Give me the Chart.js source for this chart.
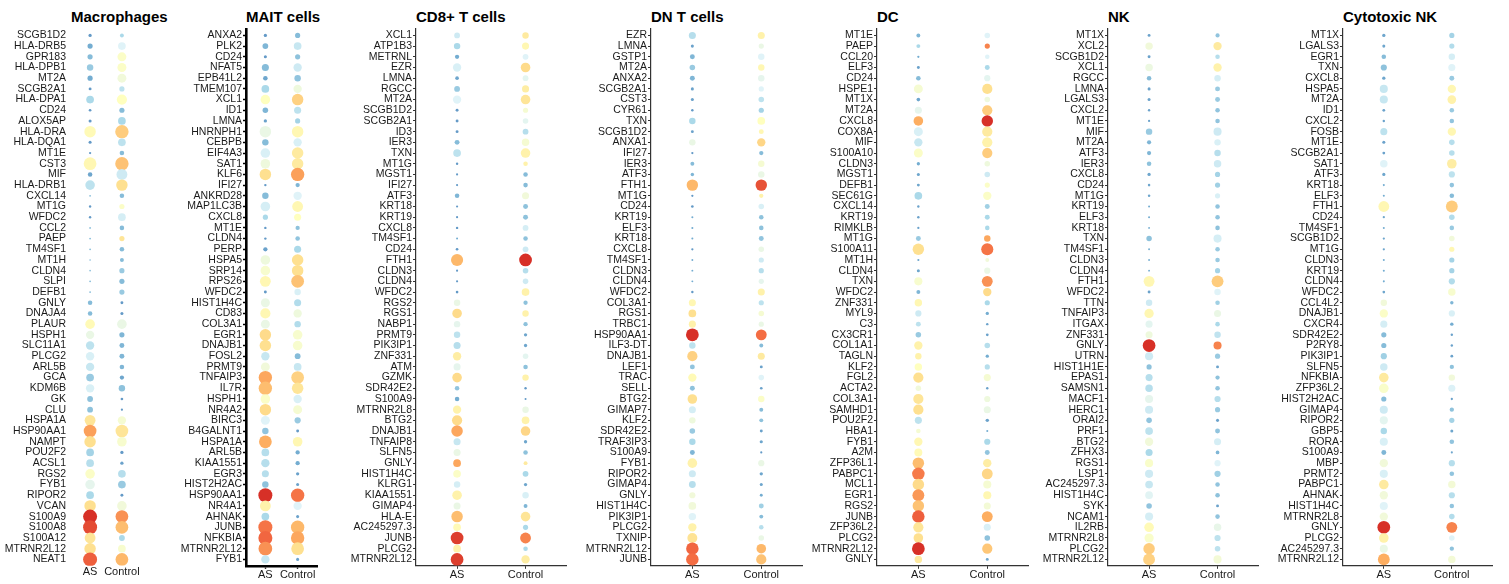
<!DOCTYPE html>
<html>
<head>
<meta charset="utf-8">
<script src="https://cdn.jsdelivr.net/npm/chart.js@4.4.1/dist/chart.umd.min.js"></script>
<style>
  html, body { margin: 0; padding: 0; background: #ffffff; }
  #wrap { position: relative; width: 1509px; height: 584px; overflow: hidden; background: #ffffff; }
  #wrap canvas { position: absolute; top: 0; }
  #wrap .panel-title {
    position: absolute; top: 8px; height: 18px; line-height: 18px; white-space: nowrap;
    font-family: "Liberation Sans", Arial, Helvetica, sans-serif; font-size: 15px; font-weight: bold; color: #000;
  }
</style>
</head>
<body>
<div id="wrap"></div>
<script>
// Dot plot of marker genes per cell type, AS vs Control.
// Exp = scaled average expression (0-10, colour), Pct = percent of cells expressing (size).
const groups = ['AS', 'Control'];

const macroGenes = ['SCGB1D2','HLA-DRB5','GPR183','HLA-DPB1','MT2A','SCGB2A1','HLA-DPA1','CD24','ALOX5AP','HLA-DRA','HLA-DQA1','MT1E','CST3','MIF','HLA-DRB1','CXCL14','MT1G','WFDC2','CCL2','PAEP','TM4SF1','MT1H','CLDN4','SLPI','DEFB1','GNLY','DNAJA4','PLAUR','HSPH1','SLC11A1','PLCG2','ARL5B','GCA','KDM6B','GK','CLU','HSPA1A','HSP90AA1','NAMPT','POU2F2','ACSL1','RGS2','FYB1','RIPOR2','VCAN','S100A9','S100A8','S100A12','MTRNR2L12','NEAT1'];
const macroAsExp = [1,1.5,2,2.5,1.5,1,3,1,1,6.2,1,1,6.3,1.3,3.5,2,1,1,2,2,2,2,2,2,2,2,2,6.2,5,3.5,4.3,3.8,2.5,4.3,2.2,2.2,7,8.4,7.2,2.8,3.3,5.8,4.8,3,7.2,10,9.6,7,7.2,9.3];
const macroAsPct = [15,30,30,40,30,12,50,10,13,80,13,7,90,25,65,3,8,8,3,3,3,2,2,3,3,25,25,65,55,55,55,55,50,55,35,35,75,90,80,50,50,65,65,50,80,100,100,75,80,100];
const macroCtrlExp = [3,4.5,5.8,5.8,5.3,3.5,6,2,3,7.6,3.5,2,7.8,4,7.2,2,5.8,4.2,2,7,2,2,2.5,2,2.5,1,1,5,1.8,1.8,1.8,1.8,1.3,2.2,1,1,5.5,7,5.6,1,1.2,3.3,2.5,1,5.3,8.6,7.9,3,5.6,8];
const macroCtrlPct = [20,50,60,60,60,30,70,30,50,95,50,25,95,75,80,25,30,50,25,30,25,20,30,30,30,12,13,65,30,28,28,25,23,40,10,7,55,90,65,15,15,50,50,12,65,90,90,35,50,90];

const maitGenes = ['ANXA2','PLK2','CD24','NFAT5','EPB41L2','TMEM107','XCL1','ID1','LMNA','HNRNPH1','CEBPB','EIF4A3','SAT1','KLF6','IFI27','ANKRD28','MAP1LC3B','CXCL8','MT1E','CLDN4','PERP','HSPA5','SRP14','RPS26','WFDC2','HIST1H4C','CD83','COL3A1','EGR1','DNAJB1','FOSL2','PRMT9','TNFAIP3','IL7R','HSPH1','NR4A2','BIRC3','B4GALNT1','HSPA1A','ARL5B','KIAA1551','EGR3','HIST2H2AC','HSP90AA1','NR4A1','AHNAK','JUNB','NFKBIA','MTRNR2L12','FYB1'];
const maitAsExp = [1,1.8,1,2,1.3,3,6,1.8,1.2,5,2,4.3,5.2,7.2,1,2,4.2,3,1,1,1.2,5.2,5.6,6.3,1,5,6.3,5,7.3,7.2,3.8,5.3,8.3,7.9,5.8,7.3,4.5,2.3,8.2,3.3,3.3,3.3,2.2,10,6.5,3,9,9.2,8.6,3.8];
const maitAsPct = [15,35,13,45,25,50,65,33,15,80,40,65,65,80,8,40,65,30,8,8,23,65,65,75,12,60,70,60,80,80,55,60,95,95,65,80,60,40,90,50,55,45,40,100,75,50,100,100,98,55];
const maitCtrlExp = [2,3.8,2.2,4,2.3,5.2,7.5,3.5,2.8,6.3,4.3,6.8,6.8,8.4,1.8,4.5,6.3,6,2.2,2.3,3,7.2,7.2,7.8,4.3,3.2,5.2,3.2,5.6,5.6,2,3.8,7.5,7,4.3,5.5,2.5,1,6.3,1.5,1.5,1.2,1.2,9,4.5,1.2,8,8.3,7.2,1.2];
const maitCtrlPct = [30,50,30,55,40,55,80,45,30,80,55,80,80,95,23,55,75,45,23,25,45,80,80,90,40,45,55,40,65,65,35,50,90,80,55,60,38,12,65,23,23,15,13,95,55,13,95,95,90,13];

const cd8Genes = ['XCL1','ATP1B3','METRNL','EZR','LMNA','RGCC','MT2A','SCGB1D2','SCGB2A1','ID3','IER3','TXN','MT1G','MGST1','IFI27','ATF3','KRT18','KRT19','CXCL8','TM4SF1','CD24','FTH1','CLDN3','CLDN4','WFDC2','RGS2','RGS1','NABP1','PRMT9','PIK3IP1','ZNF331','ATM','GZMK','SDR42E2','S100A9','MTRNR2L8','BTG2','DNAJB1','TNFAIP8','SLFN5','GNLY','HIST1H4C','KLRG1','KIAA1551','GIMAP4','HLA-E','AC245297.3','JUNB','PLCG2','MTRNR2L12'];
const cd8AsExp = [4,3,1.5,4.3,1.3,2.5,4.5,1,1,1,2,3.5,1,1,1,1.8,1,1,1,1.5,1,8,1,1,1,5,7.3,4.8,3.5,3.3,6.7,4.8,7.3,2.3,1.5,6.5,7.3,8.3,3.8,5,8.3,5.8,4.2,6.5,5,7.9,6.2,9.8,6.5,9.8];
const cd8AsPct = [35,40,23,55,18,35,55,12,12,12,28,50,8,6,6,25,6,6,8,5,10,85,6,6,10,40,65,40,40,45,55,45,65,25,25,55,70,80,45,45,50,50,40,65,45,80,50,90,50,90];
const cd8CtrlExp = [6.8,6.3,4.5,7.3,4.7,6.7,7,5.5,4.7,3.3,5.5,6.5,6.5,2,2,5.3,2.2,2.2,4.2,2.2,4,10,3.3,4,6.5,2.2,6.5,2.2,1.3,1.3,4.7,2.2,6.5,1,1,5,6.5,7.4,1.3,2.2,6.8,3,1.3,4.3,1.8,7,3,8.8,3,6.7];
const cd8CtrlPct = [40,45,35,65,35,45,65,30,33,35,48,65,25,25,25,45,28,28,35,25,35,90,33,33,50,23,40,23,15,15,33,25,40,8,5,40,50,65,15,25,20,35,15,40,20,65,30,75,25,55];

const dntGenes = ['EZR','LMNA','GSTP1','MT2A','ANXA2','SCGB2A1','CST3','CYR61','TXN','SCGB1D2','ANXA1','IFI27','IER3','ATF3','FTH1','MT1G','CD24','KRT19','ELF3','KRT18','CXCL8','TM4SF1','CLDN3','CLDN4','WFDC2','COL3A1','RGS1','TRBC1','HSP90AA1','ILF3-DT','DNAJB1','LEF1','TRAC','SELL','BTG2','GIMAP7','KLF2','SDR42E2','TRAF3IP3','S100A9','FYB1','RIPOR2','GIMAP4','GNLY','HIST1H4C','PIK3IP1','PLCG2','TXNIP','MTRNR2L12','JUNB'];
const dntAsExp = [3.3,1.2,1.8,2.5,1.8,1.2,1.2,1,3,1.2,5,1,2,1.8,8,1,1,1.5,1.5,1.5,1,1.5,1.5,1.5,1,6.3,7.2,6.5,10,3.5,7.5,2.3,6.2,2.2,7.2,4.2,5.2,2.5,3,1.8,6.5,4,3.3,5.3,5.3,4.5,6.5,7.1,9.2,9.1];
const dntAsPct = [45,13,28,33,28,13,13,8,40,12,40,7,20,16,80,7,10,5,5,5,7,4,4,4,8,45,50,45,90,40,70,28,55,28,65,45,40,33,40,28,65,45,43,38,50,48,55,68,88,88];
const dntCtrlExp = [6.5,5,4.5,6.3,4.8,4.5,3.5,2.8,6,6.3,7.4,2,5.5,5,9.5,6.5,4.3,2.2,2.2,2.3,5,4,3.3,4.8,6.5,3.5,5.5,5,9.1,2,6.8,1.2,4.5,1.2,5.8,2,2.2,1.2,1.3,1,5,1.3,1.3,1.5,2.7,2,3.3,5,8,7.8];
const dntCtrlPct = [45,30,40,40,40,30,33,30,50,28,55,23,40,40,80,23,33,25,25,28,33,30,30,30,45,30,33,30,75,20,45,12,33,10,40,20,20,12,14,6,38,15,13,12,28,20,25,33,65,70];

const dcGenes = ['MT1E','PAEP','CCL20','ELF3','CD24','HSPE1','MT1X','MT2A','CXCL8','COX8A','MIF','S100A10','CLDN3','MGST1','DEFB1','SEC61G','CXCL14','KRT19','RIMKLB','MT1G','S100A11','MT1H','CLDN4','TXN','WFDC2','ZNF331','MYL9','C3','CX3CR1','COL1A1','TAGLN','KLF2','FGL2','ACTA2','COL3A1','SAMHD1','POU2F2','HBA1','FYB1','A2M','ZFP36L1','PABPC1','MCL1','EGR1','RGS2','JUNB','ZFP36L2','PLCG2','MTRNR2L12','GNLY'];
const dcAsExp = [1.8,3,1.5,1.2,2,5.5,1.3,4.8,8.2,4.3,3.8,5.8,1.5,1.3,1.3,3,1.2,1.2,1.2,2.5,7.2,1.3,1.3,5.6,1.8,6.3,4,3.5,2.5,6.5,6.5,6,7.2,5.3,7,7.2,3.5,5.5,6.3,6.2,7.9,8.9,7.3,8.5,7.8,9.3,7,7.2,10,6.8];
const dcAsPct = [20,20,7,12,25,60,18,45,65,60,55,60,15,13,12,50,8,8,7,28,80,6,13,53,20,48,38,28,33,55,40,48,70,33,70,70,45,25,55,52,80,88,80,83,80,88,70,65,90,48];
const dcCtrlExp = [4.5,8.8,4.5,3,4.7,7.2,5.2,7.6,10,6.8,6.5,7.6,5.2,4,5.8,5.8,2.7,3,3,8.3,9,5.3,5,8.6,7.3,3,1.5,1.2,1.2,3.3,1.5,3.3,5.5,1.2,5.2,5,1.2,1.5,3,2.3,6.7,7.4,5.5,6.3,5.4,8.2,4.3,2.2,7.7,1.3];
const dcCtrlPct = [33,30,25,28,38,70,33,70,80,70,70,70,33,33,30,55,28,28,25,40,85,20,38,75,55,30,15,8,11,33,15,30,45,8,38,45,16,5,38,28,55,75,53,53,45,75,45,33,70,12];

const nkGenes = ['MT1X','XCL2','SCGB1D2','XCL1','RGCC','LMNA','LGALS3','CXCL2','MT1E','MIF','MT2A','ATF3','IER3','CXCL8','CD24','MT1G','KRT19','ELF3','KRT18','TXN','TM4SF1','CLDN3','CLDN4','FTH1','WFDC2','TTN','TNFAIP3','ITGAX','ZNF331','GNLY','UTRN','HIST1H1E','EPAS1','SAMSN1','MACF1','HERC1','ORAI2','PRF1','BTG2','ZFHX3','RGS1','LSP1','AC245297.3','HIST1H4C','SYK','NCAM1','IL2RB','MTRNR2L8','PLCG2','MTRNR2L12'];
const nkAsExp = [1.2,5.3,1.2,5.1,2,1.2,1.2,1.2,1.2,2.5,1.8,1.8,2.2,1.3,1.3,1.3,1.5,1.5,1.5,2.2,1.5,1.5,1.5,6.3,1.2,4,6.3,4.7,5.2,10,4,2.2,3.3,3.3,4.8,4,2.3,3.5,5.3,3,5.7,4,3.8,4.6,2.3,4.2,6.2,5.7,7.6,7.5];
const nkAsPct = [12,48,12,48,25,13,13,8,7,40,22,22,25,15,9,9,5,5,4,32,4,4,4,75,12,40,63,45,45,90,53,30,45,48,53,53,33,50,55,45,53,53,50,50,33,53,65,62,80,83];
const nkCtrlExp = [2.3,6.8,3.3,6.5,4.2,2.5,2.5,2.3,2.3,4,4.3,3.3,4,2.8,2.7,4.3,2.3,2.3,2.2,4.2,2.5,2.5,2.8,7.6,4.5,2.7,5,3,3.6,8.8,2.5,1.2,2.2,2.3,3.3,2.5,1.2,2.3,4.2,1.8,4.5,2.7,2.3,2.2,1.2,2.3,4.9,3.5,3.5,5.4];
const nkCtrlPct = [22,55,25,55,40,28,28,25,25,53,40,40,48,30,30,30,25,25,25,53,25,25,30,83,40,25,45,25,40,53,30,12,23,25,38,30,13,28,45,18,38,38,25,25,12,25,48,38,33,53];

const ctnkGenes = ['MT1X','LGALS3','EGR1','TXN','CXCL8','HSPA5','MT2A','ID1','CXCL2','FOSB','MT1E','SCGB2A1','SAT1','ATF3','KRT18','ELF3','FTH1','CD24','TM4SF1','SCGB1D2','MT1G','CLDN3','KRT19','CLDN4','WFDC2','CCL4L2','DNAJB1','CXCR4','SDR42E2','P2RY8','PIK3IP1','SLFN5','NFKBIA','ZFP36L2','HIST2H2AC','GIMAP4','RIPOR2','GBP5','RORA','S100A9','MBP','PRMT2','PABPC1','AHNAK','HIST1H4C','MTRNR2L8','GNLY','PLCG2','AC245297.3','MTRNR2L12'];
const ctnkAsExp = [1.3,1.3,2,2.2,1.3,3.8,3.8,1.2,1.2,3.5,1.2,1.2,4.5,1.3,1.5,1.5,6.3,1.3,1.5,1.3,1.3,1.5,1.5,1.5,1.3,5.3,5.8,4.2,2,2,2.7,4,6.8,5.7,2,4,4.7,3,4.3,1.8,5.3,4.3,6.8,5.3,4.5,5.3,10,6.5,5,8.2];
const ctnkAsPct = [15,13,25,38,15,53,53,11,8,45,13,11,48,14,5,5,75,7,5,7,7,5,5,5,10,40,55,45,30,30,38,48,65,65,30,53,53,40,53,28,55,53,65,55,53,55,90,65,53,83];
const ctnkCtrlExp = [2.8,3.2,4.2,4.5,2.5,6.3,6.5,2.5,2.3,6.3,3.3,3.3,6.7,3.5,2.3,2,7.6,3.2,2.5,5.3,6.3,2.8,2.8,3.2,5.6,1.8,4.3,1.5,1.2,1.2,1.2,2.2,5.3,4.4,1.2,2.2,2.8,1.3,2.3,1.3,3.3,2.3,5.4,3.3,2.3,3.2,8.8,4.5,2.2,5.4];
const ctnkCtrlPct = [30,30,40,45,28,55,58,25,25,55,33,33,65,38,25,25,83,33,25,33,30,30,30,38,48,16,38,16,8,8,11,23,40,45,7,23,30,13,25,6,38,25,48,38,25,33,75,33,23,48];

// ---- panel layout and axis styles ----
const FONT = '"Liberation Sans", Arial, Helvetica, sans-serif';
const AXIS_NONE  = { show: false };
const AXIS_BOLD  = { show: true, colour: '#000000', width: 2.6, tick: 1.4 };
const AXIS_THIN  = { show: true, colour: '#333333', width: 1.2, tick: 1 };

const panels = [
  { title: 'Macrophages',  genes: macroGenes, asExp: macroAsExp, asPct: macroAsPct, ctrlExp: macroCtrlExp, ctrlPct: macroCtrlPct, plotLeft: 71,   plotRight: 142,  axis: AXIS_NONE },
  { title: 'MAIT cells',   genes: maitGenes,  asExp: maitAsExp,  asPct: maitAsPct,  ctrlExp: maitCtrlExp,  ctrlPct: maitCtrlPct,  plotLeft: 246,  plotRight: 318,  axis: AXIS_BOLD },
  { title: 'CD8+ T cells', genes: cd8Genes,   asExp: cd8AsExp,   asPct: cd8AsPct,   ctrlExp: cd8CtrlExp,   ctrlPct: cd8CtrlPct,   plotLeft: 416,  plotRight: 567,  axis: AXIS_THIN },
  { title: 'DN T cells',   genes: dntGenes,   asExp: dntAsExp,   asPct: dntAsPct,   ctrlExp: dntCtrlExp,   ctrlPct: dntCtrlPct,   plotLeft: 651,  plotRight: 803,  axis: AXIS_THIN },
  { title: 'DC',           genes: dcGenes,    asExp: dcAsExp,    asPct: dcAsPct,    ctrlExp: dcCtrlExp,    ctrlPct: dcCtrlPct,    plotLeft: 877,  plotRight: 1029, axis: AXIS_THIN },
  { title: 'NK',           genes: nkGenes,    asExp: nkAsExp,    asPct: nkAsPct,    ctrlExp: nkCtrlExp,    ctrlPct: nkCtrlPct,    plotLeft: 1108, plotRight: 1259, axis: AXIS_THIN },
  { title: 'Cytotoxic NK', genes: ctnkGenes,  asExp: ctnkAsExp,  asPct: ctnkAsPct,  ctrlExp: ctnkCtrlExp,  ctrlPct: ctnkCtrlPct,  plotLeft: 1343, plotRight: 1493, axis: AXIS_THIN }
];

// RdYlBu-style ramp, blue (low) to red (high)
const RAMP = [[0,'#4575b4'],[0.15,'#74add1'],[0.3,'#abd9e9'],[0.45,'#e0f3f8'],[0.6,'#ffffbf'],[0.72,'#fee090'],[0.82,'#fdae61'],[0.91,'#f46d43'],[1,'#d73027']];
function hexRgb(h) { return [1, 3, 5].map(i => parseInt(h.slice(i, i + 2), 16)); }
function colourFor(exp) {
  const t = Math.max(0, Math.min(1, exp / 10));
  for (let k = 1; k < RAMP.length; k++) {
    if (t <= RAMP[k][0]) {
      const [t0, c0] = RAMP[k - 1], [t1, c1] = RAMP[k];
      const f = (t - t0) / (t1 - t0);
      const a = hexRgb(c0), b = hexRgb(c1);
      const m = a.map((v, j) => Math.round(v + (b[j] - v) * f));
      return 'rgb(' + m.join(',') + ')';
    }
  }
  return RAMP[RAMP.length - 1][1];
}
function radiusFor(pct) { return 0.7 + 0.063 * pct; }

const wrap = document.getElementById('wrap');
const Y_AXIS_W = 72, PAD_R = 6, H = 584, PLOT_TOP = 29;

panels.forEach(p => {
  // panel title, left-aligned with the plotting area
  const t = document.createElement('div');
  t.className = 'panel-title';
  t.textContent = p.title;
  t.style.left = p.plotLeft + 'px';
  wrap.appendChild(t);

  const canvas = document.createElement('canvas');
  const left = p.plotLeft - Y_AXIS_W;
  const width = Y_AXIS_W + (p.plotRight - p.plotLeft) + PAD_R;
  canvas.width = width; canvas.height = H;
  canvas.style.left = left + 'px';
  canvas.style.width = width + 'px';
  canvas.style.height = H + 'px';
  wrap.appendChild(canvas);

  const points = [];
  p.genes.forEach((g, i) => {
    points.push({ x: 0, y: i, exp: p.asExp[i], pct: p.asPct[i] });
    points.push({ x: 1, y: i, exp: p.ctrlExp[i], pct: p.ctrlPct[i] });
  });

  const ax = p.axis;
  const gridOpts = ax.show
    ? { display: true, drawOnChartArea: false, drawTicks: true, tickLength: 3, tickColor: ax.colour, tickWidth: ax.tick }
    : { display: false, drawOnChartArea: false, drawTicks: false };
  const borderOpts = ax.show ? { display: true, color: ax.colour, width: ax.width } : { display: false };
  const n = p.genes.length;

  new Chart(canvas, {
    type: 'bubble',
    data: {
      datasets: [{
        data: points,
        backgroundColor: ctx => colourFor(ctx.raw.exp),
        radius: ctx => radiusFor(ctx.raw.pct),
        borderWidth: 0,
        hoverRadius: 0
      }]
    },
    options: {
      responsive: false,
      animation: false,
      devicePixelRatio: 1,
      events: [],
      layout: { padding: { left: 0, right: PAD_R, top: PLOT_TOP, bottom: ax.show ? 2 : 5 } },
      plugins: {
        legend: { display: false },
        tooltip: { enabled: false },
        title: { display: false }
      },
      scales: {
        x: {
          type: 'linear', min: -0.6, max: 1.6,
          afterBuildTicks: s => { s.ticks = groups.map((g, i) => ({ value: i })); },
          ticks: { callback: v => groups[v], autoSkip: false, maxRotation: 0, padding: 0, color: '#1a1a1a', font: { family: FONT, size: 11 } },
          grid: gridOpts,
          border: borderOpts
        },
        y: {
          type: 'linear', reverse: true, min: -0.6, max: n - 0.4,
          afterBuildTicks: s => { s.ticks = p.genes.map((g, i) => ({ value: i })); },
          afterFit: s => { s.width = Y_AXIS_W; },
          ticks: { callback: v => p.genes[v], autoSkip: false, padding: ax.show ? 1 : 5, color: '#1a1a1a', font: { family: FONT, size: 10.5 } },
          grid: gridOpts,
          border: borderOpts
        }
      }
    }
  });
});
</script>
</body>
</html>
